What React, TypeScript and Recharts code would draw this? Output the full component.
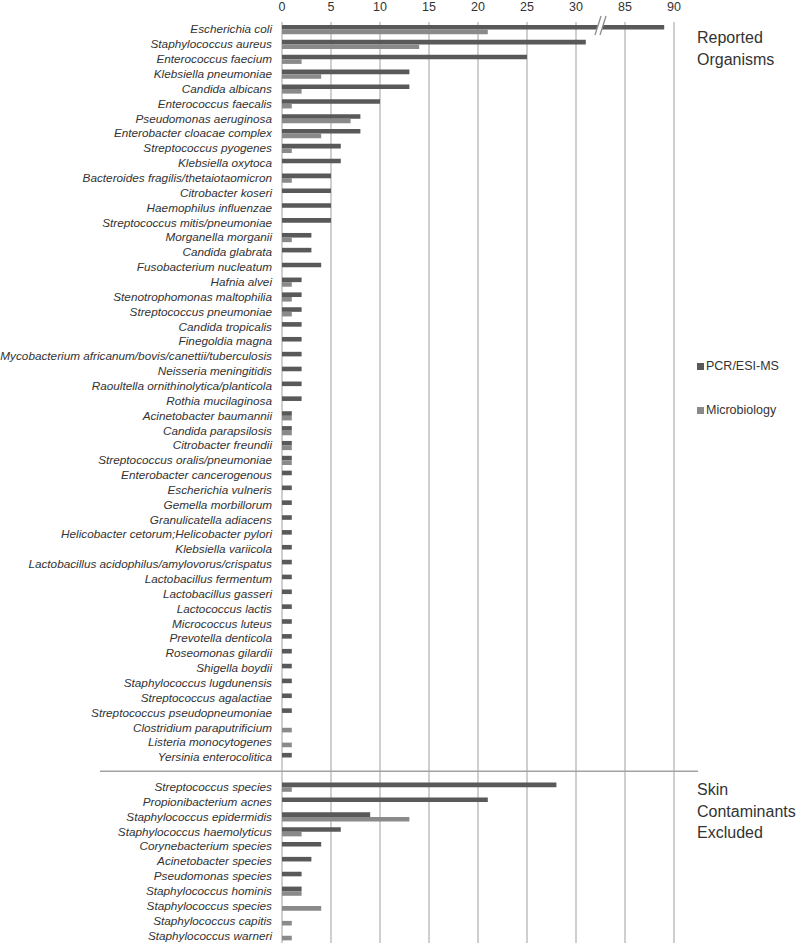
import React from 'react'
import {
  BarChart,
  Bar,
  XAxis,
  YAxis,
  CartesianGrid,
  Legend,
  ReferenceLine,
} from 'recharts'

// organisms reported by both methods
const reportedNames = [
  'Escherichia coli',
  'Staphylococcus aureus',
  'Enterococcus faecium',
  'Klebsiella pneumoniae',
  'Candida albicans',
  'Enterococcus faecalis',
  'Pseudomonas aeruginosa',
  'Enterobacter cloacae complex',
  'Streptococcus pyogenes',
  'Klebsiella oxytoca',
  'Bacteroides fragilis/thetaiotaomicron',
  'Citrobacter koseri',
  'Haemophilus influenzae',
  'Streptococcus mitis/pneumoniae',
  'Morganella morganii',
  'Candida glabrata',
  'Fusobacterium nucleatum',
  'Hafnia alvei',
  'Stenotrophomonas maltophilia',
  'Streptococcus pneumoniae',
  'Candida tropicalis',
  'Finegoldia magna',
  'Mycobacterium africanum/bovis/canettii/tuberculosis',
  'Neisseria meningitidis',
  'Raoultella ornithinolytica/planticola',
  'Rothia mucilaginosa',
  'Acinetobacter baumannii',
  'Candida parapsilosis',
  'Citrobacter freundii',
  'Streptococcus oralis/pneumoniae',
  'Enterobacter cancerogenous',
  'Escherichia vulneris',
  'Gemella morbillorum',
  'Granulicatella adiacens',
  'Helicobacter cetorum;Helicobacter pylori',
  'Klebsiella variicola',
  'Lactobacillus acidophilus/amylovorus/crispatus',
  'Lactobacillus fermentum',
  'Lactobacillus gasseri',
  'Lactococcus lactis',
  'Micrococcus luteus',
  'Prevotella denticola',
  'Roseomonas gilardii',
  'Shigella boydii',
  'Staphylococcus lugdunensis',
  'Streptococcus agalactiae',
  'Streptococcus pseudopneumoniae',
  'Clostridium paraputrificium',
  'Listeria monocytogenes',
  'Yersinia enterocolitica',
]
const reportedPcr = [
  89, 31, 25, 13, 13, 10, 8, 8, 6, 6, 5, 5, 5, 5, 3, 3, 4, 2, 2, 2, 2, 2, 2, 2, 2,
  2, 1, 1, 1, 1, 1, 1, 1, 1, 1, 1, 1, 1, 1, 1, 1, 1, 1, 1, 1, 1, 1, 0, 0, 1,
]
const reportedMicro = [
  21, 14, 2, 4, 2, 1, 7, 4, 1, 0, 1, 0, 0, 0, 1, 0, 0, 1, 1, 1, 0, 0, 0, 0, 0,
  0, 1, 1, 1, 1, 0, 0, 0, 0, 0, 0, 0, 0, 0, 0, 0, 0, 0, 0, 0, 0, 0, 1, 1, 0,
]

// skin contaminants, excluded
const skinNames = [
  'Streptococcus species',
  'Propionibacterium acnes',
  'Staphylococcus epidermidis',
  'Staphylococcus haemolyticus',
  'Corynebacterium species',
  'Acinetobacter species',
  'Pseudomonas species',
  'Staphylococcus hominis',
  'Staphylococcus species',
  'Staphylococcus capitis',
  'Staphylococcus warneri',
]
const skinPcr = [28, 21, 9, 6, 4, 3, 2, 2, 0, 0, 0]
const skinMicro = [1, 0, 13, 2, 0, 0, 0, 2, 4, 1, 1]

const seriesNames = ['PCR/ESI-MS', 'Microbiology']
const xTicks = [0, 5, 10, 15, 20, 25, 30, 35, 40]

const GAP = ' '
const FONT = '"Liberation Sans", Arial, sans-serif'

// axis is broken between 30 and 85
const squeeze = (v: number) => (v >= 80 ? v - 50 : v)
const unsqueeze = (v: number) => (v > 30 ? v + 50 : v)

const toRows = (names: string[], pcr: number[], micro: number[]) =>
  names.map((name, i) => ({
    name,
    pcr: squeeze(pcr[i]),
    micro: squeeze(micro[i]),
  }))

const chartData = [
  ...toRows(reportedNames, reportedPcr, reportedMicro),
  { name: GAP, pcr: null, micro: null },
  ...toRows(skinNames, skinPcr, skinMicro),
]

function OrganismTick(props: any) {
  const { x, y, payload } = props
  if (payload.value === GAP) {
    return (
      <line x1={100} x2={698} y1={y - 1} y2={y - 1} stroke="#a3a3a3" strokeWidth={1.5} />
    )
  }
  return (
    <text
      x={x}
      y={y}
      dy={4}
      textAnchor="end"
      fontFamily={FONT}
      fontStyle="italic"
      fontSize={11.75}
      fill="#333"
    >
      {payload.value}
    </text>
  )
}

function BreakMark(props: any) {
  const { x1, y1 } = props
  const pts = [
    [x1 - 5.5, y1 + 13],
    [x1 + 0.5, y1 - 6],
    [x1 + 5.5, y1 - 6],
    [x1 - 0.5, y1 + 13],
  ]
  return (
    <g>
      <polygon points={pts.map((p) => p.join(',')).join(' ')} fill="#fff" />
      <line x1={pts[0][0]} y1={pts[0][1]} x2={pts[1][0]} y2={pts[1][1]} stroke="#8c8c8c" strokeWidth={1.3} />
      <line x1={pts[3][0]} y1={pts[3][1]} x2={pts[2][0]} y2={pts[2][1]} stroke="#8c8c8c" strokeWidth={1.3} />
    </g>
  )
}

function LegendBox({ payload }: any) {
  const items = [...(payload || [])].sort(
    (a: any, b: any) => seriesNames.indexOf(a.value) - seriesNames.indexOf(b.value)
  )
  return (
    <div style={{ position: 'relative', height: 88, fontFamily: FONT, fontSize: 12.5, color: '#333' }}>
      {items.map((p: any, i: number) => (
        <div
          key={p.value}
          style={{ position: 'absolute', left: 0, top: i * 44, height: 16, lineHeight: '16px', whiteSpace: 'nowrap' }}
        >
          <span
            style={{ width: 7, height: 7, background: p.color, marginRight: 2, display: 'inline-block' }}
          />
          {p.value}
        </div>
      ))}
    </div>
  )
}

const titleStyle: React.CSSProperties = {
  position: 'absolute',
  left: 697,
  fontFamily: FONT,
  fontSize: 16,
  lineHeight: '21.5px',
  color: '#333',
}

export default function App() {
  return (
    <div style={{ position: 'absolute', left: 0, top: 0, width: 800, height: 944, background: '#fff' }}>
      <BarChart
        layout="vertical"
        width={800}
        height={944}
        data={chartData}
        margin={{ top: 0, right: 126, bottom: 1, left: 0 }}
        barCategoryGap="18%"
        barGap={0}
      >
        <CartesianGrid horizontal={false} stroke="#bfbfbf" strokeWidth={1.5} />
        <XAxis
          type="number"
          orientation="top"
          domain={[0, 40]}
          ticks={xTicks}
          tickFormatter={(v: number) => String(unsqueeze(v))}
          axisLine={false}
          tickLine={false}
          tickSize={0}
          tickMargin={11}
          height={22}
          tick={{ fontFamily: FONT, fontSize: 12.5, fill: '#333' }}
        />
        <YAxis
          type="category"
          dataKey="name"
          width={282}
          interval={0}
          axisLine={false}
          tickLine={false}
          tickSize={0}
          tickMargin={10}
          tick={<OrganismTick />}
        />
        <Legend
          layout="horizontal"
          verticalAlign="middle"
          align="center"
          wrapperStyle={{ left: 697, top: 358, width: 100 }}
          content={<LegendBox />}
        />
        <Bar dataKey="pcr" name={seriesNames[0]} fill="#595959" barSize={4.6} isAnimationActive={false} />
        <Bar dataKey="micro" name={seriesNames[1]} fill="#8a8a8a" barSize={4.6} isAnimationActive={false} />
        <ReferenceLine x={32.5} stroke="none" shape={<BreakMark />} ifOverflow="visible" />
      </BarChart>
      <div style={{ ...titleStyle, top: 27 }}>
        Reported
        <br />
        Organisms
      </div>
      <div style={{ ...titleStyle, top: 779 }}>
        Skin
        <br />
        Contaminants
        <br />
        Excluded
      </div>
    </div>
  )
}
